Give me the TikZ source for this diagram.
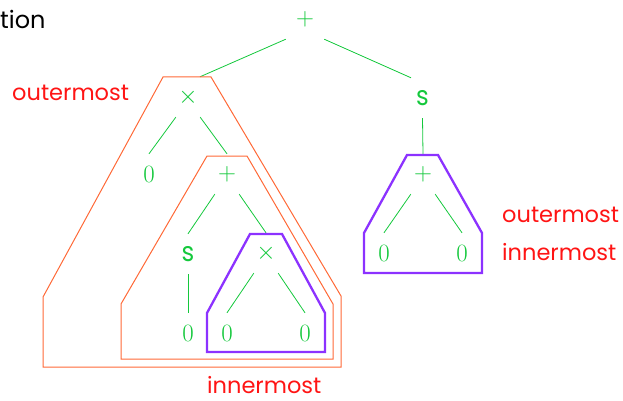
\documentclass[tikz,border=0pt]{standalone}
\usepackage{fontspec}
\newfontfamily\gothic{Poppins}
\definecolor{treegreen}{RGB}{20,200,60}
\definecolor{redexorange}{RGB}{255,105,55}
\definecolor{redexpurple}{RGB}{140,50,255}
\definecolor{labelred}{RGB}{255,20,20}
\newcommand\sletter{{\gothic\fontsize{27}{27}\selectfont\scalebox{0.9}[1]{s}}}
\begin{document}
\begin{tikzpicture}[x=1pt,y=-1pt,
  sym/.style={minimum width=24pt,minimum height=40pt,inner sep=0pt,
    text=treegreen,font=\fontsize{30}{30}\selectfont},
  branch/.style={draw=treegreen,line width=0.8pt},
  redexbox/.style={draw=redexorange,line width=1pt},
  innerbox/.style={draw=redexpurple,line width=2.3pt},
  tag/.style={text=labelred,font=\gothic\fontsize{22.5}{22.5}\selectfont,
    inner sep=0pt,anchor=base west}]
\useasboundingbox (0,0) rectangle (623,401);

% term tree
\node[sym] (root) at (305,19)  {$+$};
\node[sym] (tl)   at (188,97)  {$\times$};
\node[sym] (rs)   at (422.5,98) {\sletter};
\node[sym] (z1)   at (149,174) {$0$};
\node[sym] (mp)   at (227,174) {$+$};
\node[sym] (rp)   at (423,174) {$+$};
\node[sym] (rz1)  at (384,253) {$0$};
\node[sym] (rz2)  at (462,253) {$0$};
\node[sym] (ms)   at (188,254) {\sletter};
\node[sym] (mx)   at (266,253) {$\times$};
\node[sym] (bz1)  at (188,333) {$0$};
\node[sym] (bz2)  at (227,333) {$0$};
\node[sym] (bz3)  at (305,333) {$0$};

\draw[branch] ([xshift=-7pt]root.south west) -- ([xshift=12pt]tl.north);
\draw[branch] ([xshift=7pt]root.south east) -- ([xshift=-11.5pt]rs.north);
\draw[branch] (tl.south west) -- (z1.north);
\draw[branch] (tl.south east) -- (mp.north);
\draw[branch] (rs.south) -- (rp.north);
\draw[branch] (rp.south west) -- (rz1.north);
\draw[branch] (rp.south east) -- (rz2.north);
\draw[branch] (mp.south west) -- (ms.north);
\draw[branch] (mp.south east) -- (mx.north);
\draw[branch] (ms.south) -- (bz1.north);
\draw[branch] (mx.south west) -- (bz2.north);
\draw[branch] (mx.south east) -- (bz3.north);

% redex outlines
\draw[redexbox] (163,77) -- (211,77) -- (341,296) -- (341,367)
  -- (43,367) -- (43,297) -- cycle;
\draw[redexbox] (207,156) -- (247,156) -- (333,304) -- (333,359)
  -- (121,359) -- (121,304) -- cycle;
\draw[innerbox] (250,234) -- (282,234) -- (325,313) -- (325,352)
  -- (207,352) -- (207,313) -- cycle;
\draw[innerbox] (407,155) -- (438,155) -- (482,233) -- (482,273)
  -- (364,273) -- (364,233) -- cycle;

% labels
\node[tag,text=black,font=\gothic\fontsize{24}{24}\selectfont] (cut) at (0,29) {tion};
\node[tag] (outl) at (12,101) {outermost};
\node[tag] (outr) at (502,222) {outermost};
\node[tag] (innr) at (502,260) {innermost};
\node[tag] (innb) at (207,393) {innermost};
\end{tikzpicture}
\end{document}
